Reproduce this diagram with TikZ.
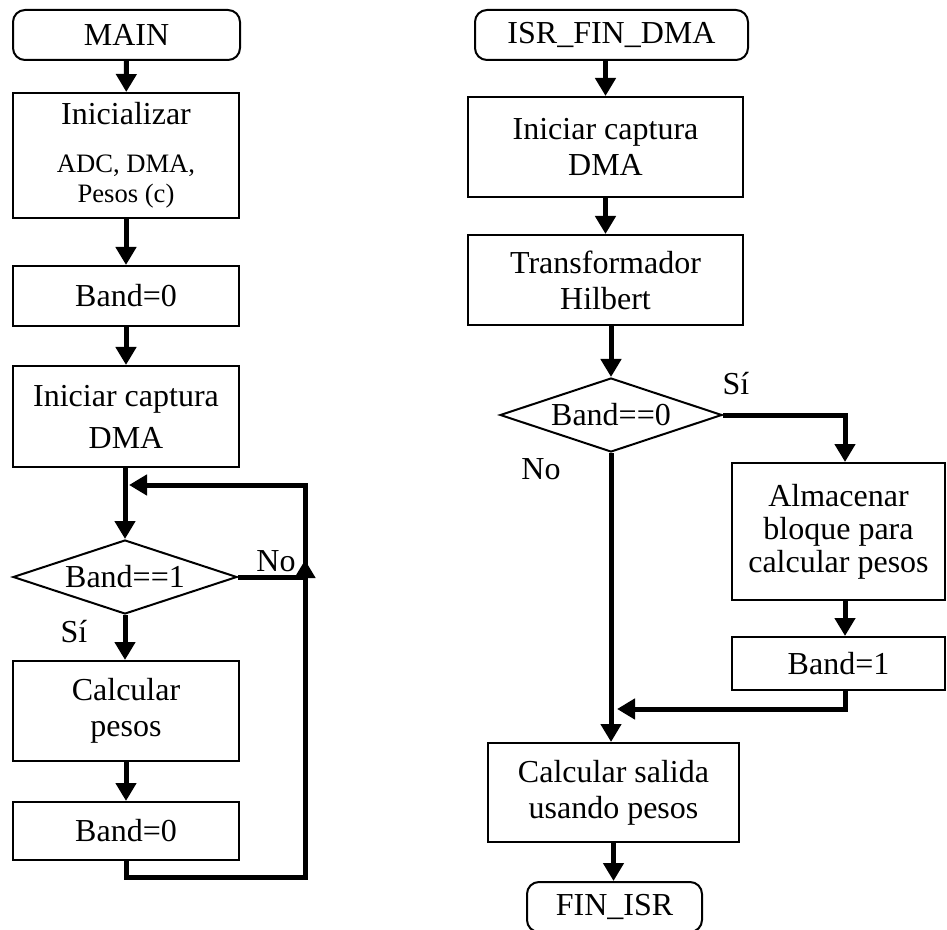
\documentclass[tikz,border=0pt]{standalone}
\usepackage{fontspec}
\setmainfont{Liberation Serif}
\usetikzlibrary{shapes.geometric,arrows.meta}

\newcommand{\chico}{\fontsize{13.3}{15}\selectfont}

\begin{document}
\begin{tikzpicture}[x=0.5pt,y=-0.5pt,
    caja/.style={draw,line width=1pt,inner sep=0pt,align=center,font=\fontsize{16}{18}\selectfont},
    term/.style={caja,rounded corners=6pt},
    decision/.style={diamond,aspect=3,draw,line width=1pt,inner sep=0pt,font=\fontsize{16}{18}\selectfont},
    flujo/.style={line width=2.5pt,-{Triangle[length=9pt,width=10pt]}},
    etiqueta/.style={inner sep=0pt,font=\fontsize{16}{18}\selectfont}]
    \useasboundingbox (0,0) rectangle (947,930);

    \node[term,minimum width=113.5pt,minimum height=25pt] (main) at (126.5,35) {MAIN};
    \node[caja,minimum width=113pt,minimum height=62.5pt] (init) at (126,155.5) {Inicializar\\[6pt]{\chico ADC, DMA,}\\[-3pt]{\chico Pesos (c)}};
    \node[caja,minimum width=113pt,minimum height=30pt] (bandA) at (126,296) {Band=0};
    \node[caja,minimum width=113pt,minimum height=50.5pt] (capA) at (126,416.5) {Iniciar captura\\[3pt]DMA};
    \node[decision,minimum width=112pt,minimum height=37pt] (decA) at (125,577) {Band==1};
    \node[caja,minimum width=113pt,minimum height=50pt] (pesos) at (126,711) {Calcular\\pesos};
    \node[caja,minimum width=113pt,minimum height=29pt] (bandB) at (126,831) {Band=0};

    \node[term,minimum width=136.5pt,minimum height=25pt] (isr) at (611.5,35) {ISR\_FIN\_DMA};
    \node[caja,minimum width=137.5pt,minimum height=50pt] (capB) at (605.5,147) {Iniciar captura\\DMA};
    \node[caja,minimum width=137.5pt,minimum height=45pt] (hilb) at (605.5,280) {Transformador\\Hilbert};
    \node[decision,minimum width=111pt,minimum height=37pt] (decB) at (611,415) {Band==0};
    \node[caja,minimum width=106.5pt,minimum height=68.5pt] (alm) at (838.5,531.5) {Almacenar\\[-1.5pt]bloque para\\[-1.5pt]calcular pesos};
    \node[caja,minimum width=106.5pt,minimum height=26.5pt] (bandC) at (838.5,663.5) {Band=1};
    \node[caja,minimum width=125.5pt,minimum height=49.5pt] (salida) at (613.5,792.5) {Calcular salida\\usando pesos};
    \node[term,minimum width=87.5pt,minimum height=25pt] (fin) at (614.5,907) {FIN\_ISR};

    \node[etiqueta] (noA) at (276,561) {No};
    \node[etiqueta] (siA) at (74,632) {Sí};
    \node[etiqueta] (siB) at (736,384) {Sí};
    \node[etiqueta] (noB) at (541,469) {No};

    \coordinate (esqA) at (305,877);
    \coordinate (subeA) at (305,560);
    \coordinate (entraA) at (129,485);
    \coordinate (colC) at (845,0);
    \coordinate (unionB) at (617,709);

    \draw[flujo] (main) -- (init);
    \draw[flujo] (init) -- (bandA);
    \draw[flujo] (bandA) -- (capA);
    \draw[flujo] (capA.south -| decA.north) -- (decA.north);
    \draw[flujo] (decA) -- (pesos.north -| decA.south);
    \draw[flujo] (pesos) -- (bandB);
    \draw[flujo] (bandB.south) |- (esqA) -- (subeA);
    \draw[flujo] (decA.east) -- (decA.east -| esqA) |- (entraA);

    \draw[flujo] (isr.south -| capB.north) -- (capB.north);
    \draw[flujo] (capB) -- (hilb);
    \draw[flujo] (hilb.south -| decB.north) -- (decB.north);
    \draw[flujo] (decB.east) -| (colC |- alm.north);
    \draw[flujo] (alm.south -| colC) -- (bandC.north -| colC);
    \draw[flujo] (bandC.south -| colC) |- (unionB);
    \draw[flujo] (decB.south) -- (decB.south |- salida.north);
    \draw[flujo] (salida.south) -- (salida.south |- fin.north);
\end{tikzpicture}
\end{document}
